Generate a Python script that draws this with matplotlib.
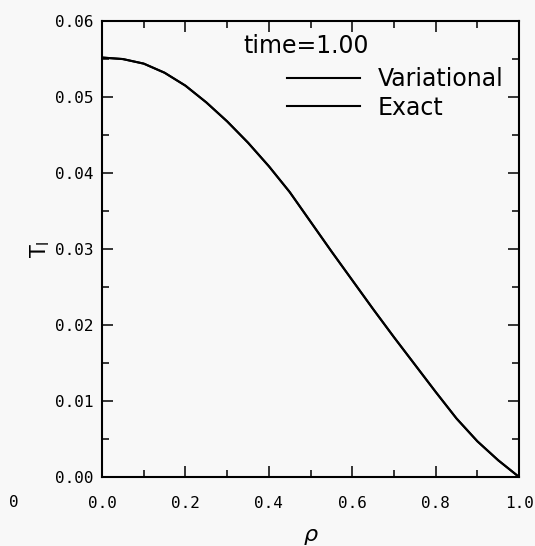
import matplotlib
matplotlib.use("Agg")
import matplotlib.pyplot as plt
from matplotlib.ticker import MultipleLocator, FormatStrFormatter

# radial profile of T_l at time = 1.00
rho = [0.00, 0.05, 0.10, 0.15, 0.20, 0.25, 0.30, 0.35, 0.40, 0.45, 0.50,
       0.55, 0.60, 0.65, 0.70, 0.75, 0.80, 0.85, 0.90, 0.95, 1.00]
t_variational = [0.0552, 0.0550, 0.0544, 0.0532, 0.0515, 0.0493, 0.0468, 0.0440,
                 0.0409, 0.0375, 0.0336, 0.0297, 0.0259, 0.0221, 0.0184, 0.0148,
                 0.0112, 0.0077, 0.0047, 0.0022, 0.0000]
t_exact = [0.0552, 0.0550, 0.0544, 0.0532, 0.0515, 0.0493, 0.0468, 0.0440,
           0.0409, 0.0375, 0.0336, 0.0297, 0.0259, 0.0221, 0.0184, 0.0148,
           0.0112, 0.0077, 0.0047, 0.0022, 0.0000]

bg = '#f8f8f8'
fig = plt.figure(figsize=(5.35, 5.46), dpi=100, facecolor=bg)
ax = fig.add_axes([0.1907, 0.1264, 0.7795, 0.835], facecolor=bg)

ax.plot(rho, t_variational, color='black', lw=1.5, label='Variational')
ax.plot(rho, t_exact, color='black', lw=1.5, label='Exact')

ax.set_xlim(0, 1)
ax.set_ylim(0, 0.06)
ax.xaxis.set_major_locator(MultipleLocator(0.2))
ax.xaxis.set_minor_locator(MultipleLocator(0.1))
ax.yaxis.set_major_locator(MultipleLocator(0.01))
ax.yaxis.set_minor_locator(MultipleLocator(0.005))
ax.xaxis.set_major_formatter(FormatStrFormatter('%.1f'))
ax.yaxis.set_major_formatter(FormatStrFormatter('%.2f'))

ax.tick_params(which='both', direction='in', top=True, right=True,
               width=1.1, color='black')
ax.tick_params(which='major', length=8)
ax.tick_params(which='minor', length=5)
ax.tick_params(axis='x', which='major', pad=14)
ax.tick_params(axis='y', which='major', pad=6)
for lbl in ax.get_xticklabels() + ax.get_yticklabels():
    lbl.set_family('DejaVu Sans Mono')
    lbl.set_fontsize(11.5)
for sp in ax.spines.values():
    sp.set_linewidth(1.5)

ax.set_xlabel(r'$\rho$', fontsize=16, labelpad=11)
ax.set_ylabel(r'T$_\mathrm{l}$', fontsize=15, labelpad=2)

ax.text(0.34, 0.945, 'time=1.00', transform=ax.transAxes, fontsize=17,
        va='center', ha='left')
ax.legend(loc='upper left', bbox_to_anchor=(0.42, 0.92), frameon=False,
          fontsize=17, handlelength=3.1, handletextpad=0.75, labelspacing=0.2,
          borderaxespad=0)

fig.text(0.025, 0.079, '0', fontsize=11.5, family='DejaVu Sans Mono',
         ha='center', va='center')

fig.savefig('out.png', dpi=100, facecolor=bg)
